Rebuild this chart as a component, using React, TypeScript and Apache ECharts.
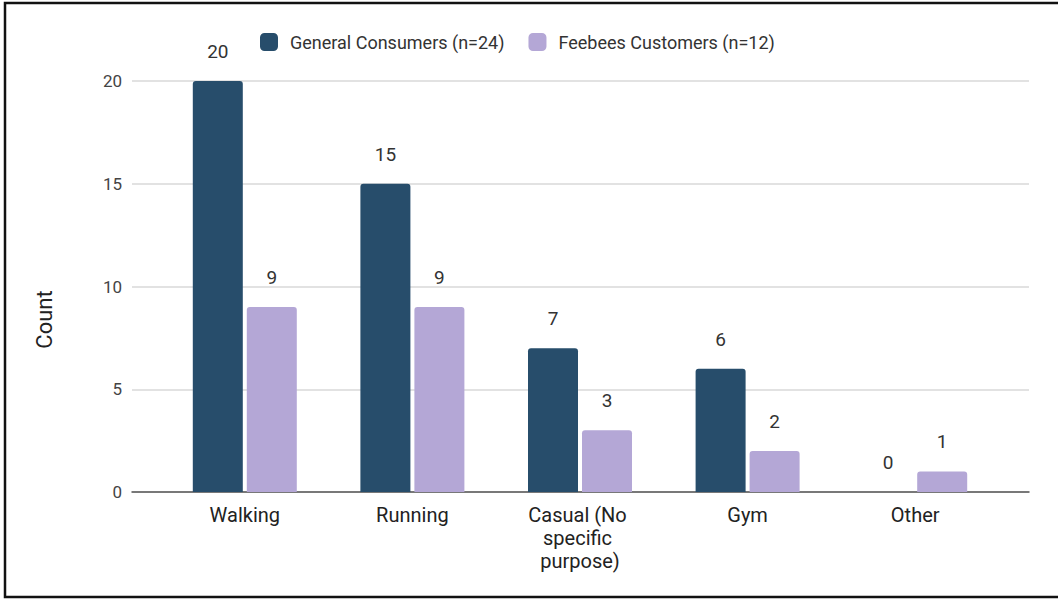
import React, { useEffect, useRef } from "react";
import * as echarts from "echarts";

// Shoe usage purpose by respondent group
const categories = ["Walking", "Running", "Casual (No specific purpose)", "Gym", "Other"];
const generalConsumers = [20, 15, 7, 6, 0];
const feebeesCustomers = [9, 9, 3, 2, 1];
const seriesNames = ["General Consumers (n=24)", "Feebees Customers (n=12)"];
const yTicks = { min: 0, max: 20, interval: 5 };

const FONT = "Roboto, Arial, sans-serif";
const DARK = "#274d6b";
const LIGHT = "#b4a7d6";

export default function App() {
  const ref = useRef<HTMLDivElement>(null);

  useEffect(() => {
    if (!ref.current) return;
    const chart = echarts.init(ref.current, undefined, { renderer: "svg" });

    const valueLabel = {
      show: true,
      position: "top" as const,
      distance: 20,
      fontSize: 19,
      color: "#333",
      fontFamily: FONT,
    };

    chart.setOption({
      animation: false,
      backgroundColor: "#fff",
      textStyle: { fontFamily: FONT },
      legend: {
        data: seriesNames,
        left: 260,
        top: 33,
        padding: 0,
        itemWidth: 18,
        itemHeight: 18,
        itemGap: 24,
        icon: "roundRect",
        textStyle: { fontSize: 18, color: "#333", fontFamily: FONT, padding: [0, 0, 0, 7] },
      },
      grid: [
        // frame holding gridlines, value ticks and the zero baseline
        { left: 132, right: 29, top: 81, bottom: 108 },
        // inner band holding the category groups
        { left: 161, right: 59, top: 81, bottom: 108 },
      ],
      xAxis: [
        {
          gridIndex: 0,
          type: "value",
          min: 0,
          max: 1,
          axisLine: { show: true, onZero: false, lineStyle: { color: "#555", width: 1.5 } },
          axisTick: { show: false },
          axisLabel: { show: false },
          splitLine: { show: false },
        },
        {
          gridIndex: 1,
          type: "category",
          data: categories,
          axisLine: { show: false },
          axisTick: { show: false },
          axisLabel: {
            interval: 0,
            fontSize: 20,
            lineHeight: 23,
            color: "#222",
            fontFamily: FONT,
            margin: 11,
            width: 118,
            overflow: "break",
          },
        },
      ],
      yAxis: [
        {
          gridIndex: 0,
          type: "value",
          min: yTicks.min,
          max: yTicks.max,
          interval: yTicks.interval,
          name: "Count",
          nameLocation: "middle",
          nameGap: 77,
          nameTextStyle: { fontSize: 22, color: "#222", fontFamily: FONT, padding: [0, 66, 0, 0] },
          axisLine: { show: false },
          axisTick: { show: false },
          axisLabel: { fontSize: 17, color: "#444", margin: 10, fontFamily: FONT },
          splitLine: { show: true, lineStyle: { color: "#d9d9d9", width: 1.5 } },
        },
        {
          gridIndex: 1,
          type: "value",
          min: yTicks.min,
          max: yTicks.max,
          interval: yTicks.interval,
          show: false,
          splitLine: { show: false },
        },
      ],
      series: [
        {
          name: seriesNames[0],
          type: "bar",
          xAxisIndex: 1,
          yAxisIndex: 1,
          data: generalConsumers,
          barWidth: 50,
          barGap: "8%",
          itemStyle: { color: DARK, borderRadius: [3, 3, 0, 0] },
          label: valueLabel,
        },
        {
          name: seriesNames[1],
          type: "bar",
          xAxisIndex: 1,
          yAxisIndex: 1,
          data: feebeesCustomers,
          barWidth: 50,
          barGap: "8%",
          itemStyle: { color: LIGHT, borderRadius: [3, 3, 0, 0] },
          label: valueLabel,
        },
      ],
      graphic: [
        {
          type: "rect",
          silent: true,
          shape: { x: 5, y: 3, width: 1070, height: 594 },
          style: { fill: "none", stroke: "#111", lineWidth: 2.5 },
          z: 100,
        },
      ],
    });

    return () => chart.dispose();
  }, []);

  return (
    <div style={{ position: "absolute", left: 0, top: 0, width: 1058, height: 600, background: "#fff" }}>
      <div ref={ref} style={{ width: 1058, height: 600 }} />
    </div>
  );
}
